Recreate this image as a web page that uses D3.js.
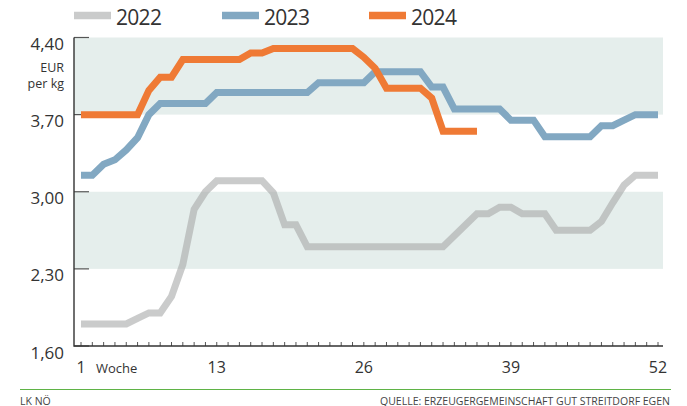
<!DOCTYPE html>
<html>
<head>
<meta charset="utf-8">
<script src="https://cdn.jsdelivr.net/npm/d3@7"></script>
<style>
  body { margin: 0; background: #fff; }
  svg { display: block; font-family: "Open Sans", sans-serif; }
</style>
</head>
<body>
<svg id="chart" width="687" height="406"></svg>
<script>

// weeks 1..52
const weeks = d3.range(1, 53);

const prices2022 = [1.80, 1.80, 1.80, 1.80, 1.80, 1.85, 1.90, 1.90, 2.05, 2.34,
  2.84, 3.00, 3.10, 3.10, 3.10, 3.10, 3.10, 2.99, 2.70, 2.70,
  2.50, 2.50, 2.50, 2.50, 2.50, 2.50, 2.50, 2.50, 2.50, 2.50,
  2.50, 2.50, 2.50, 2.60, 2.70, 2.80, 2.80, 2.86, 2.86, 2.80,
  2.80, 2.80, 2.65, 2.65, 2.65, 2.65, 2.73, 2.90, 3.06, 3.15,
  3.15, 3.15];

const prices2023 = [3.15, 3.15, 3.25, 3.29, 3.38, 3.49, 3.70, 3.80, 3.80, 3.80,
  3.80, 3.80, 3.90, 3.90, 3.90, 3.90, 3.90, 3.90, 3.90, 3.90,
  3.90, 3.99, 3.99, 3.99, 3.99, 3.99, 4.09, 4.09, 4.09, 4.09,
  4.09, 3.95, 3.95, 3.75, 3.75, 3.75, 3.75, 3.75, 3.65, 3.65,
  3.65, 3.50, 3.50, 3.50, 3.50, 3.50, 3.60, 3.60, 3.65, 3.70,
  3.70, 3.70];

// 2024 only up to week 36
const prices2024 = [3.70, 3.70, 3.70, 3.70, 3.70, 3.70, 3.92, 4.04, 4.04, 4.20,
  4.20, 4.20, 4.20, 4.20, 4.20, 4.26, 4.26, 4.30, 4.30, 4.30,
  4.30, 4.30, 4.30, 4.30, 4.30, 4.22, 4.12, 3.94, 3.94, 3.94,
  3.94, 3.85, 3.55, 3.55, 3.55, 3.55];

const seriesNames = ["2022", "2023", "2024"];
const seriesColors = ["#a6a9a9", "#82a8c2", "#ef7a35"];
const seriesOpacity = [0.6, 1, 1];
const seriesValues = [prices2022, prices2023, prices2024];

const yTicks = [1.60, 2.30, 3.00, 3.70, 4.40];
const xLabels = [1, 13, 26, 39, 52];
// shaded bands (from, to)
const bands = [[3.70, 4.40], [2.30, 3.00]];

let svg = d3.select("#chart");

let x = d3.scaleLinear().domain([1, 52]).range([81, 658]);
let y = d3.scaleLinear().domain([1.60, 4.40]).range([346, 37.5]);

let fmt = function(v){ return d3.format(".2f")(v).replace(".", ","); };

// _______________________________BANDS_____________________

svg.append("g")
  .selectAll("rect")
  .data(bands)
  .enter()
  .append("rect")
  .attr("x", 74)
  .attr("width", 663 - 74)
  .attr("y", function(d){ return y(d[1]); })
  .attr("height", function(d){ return y(d[0]) - y(d[1]); })
  .style("fill", "#e5eeec");

// _______________________________AXES_____________________

// y ticks (short lines inside the plot)
svg.append("g")
  .selectAll("line")
  .data(yTicks)
  .enter()
  .append("line")
  .attr("x1", 74)
  .attr("x2", 89)
  .attr("y1", function(d){ return y(d); })
  .attr("y2", function(d){ return y(d); })
  .style("stroke", "#555")
  .style("stroke-width", 1.2);

svg.append("g")
  .selectAll("text")
  .data(yTicks)
  .enter()
  .append("text")
  .attr("x", 64)
  .attr("y", function(d){ return y(d) + 12.5; })
  .attr("text-anchor", "end")
  .style("font-size", "17px")
  .style("fill", "#333")
  .text(fmt);

svg.append("text")
  .attr("x", 64)
  .attr("y", 72)
  .attr("text-anchor", "end")
  .style("font-size", "12.5px")
  .style("fill", "#333")
  .text("EUR");

svg.append("text")
  .attr("x", 64)
  .attr("y", 88)
  .attr("text-anchor", "end")
  .style("font-size", "12.5px")
  .style("fill", "#333")
  .text("per kg");

// x ticks, one per week
svg.append("g")
  .selectAll("line")
  .data(weeks)
  .enter()
  .append("line")
  .attr("x1", function(d){ return x(d); })
  .attr("x2", function(d){ return x(d); })
  .attr("y1", y(1.60) - 4)
  .attr("y2", y(1.60))
  .style("stroke", "#555")
  .style("stroke-width", 1);

svg.append("g")
  .selectAll("text")
  .data(xLabels)
  .enter()
  .append("text")
  .attr("x", function(d){ return x(d); })
  .attr("y", 373)
  .attr("text-anchor", "middle")
  .style("font-size", "16px")
  .style("fill", "#333")
  .text(function(d){ return d; });

svg.append("text")
  .attr("x", 96)
  .attr("y", 373)
  .style("font-size", "13px")
  .style("fill", "#333")
  .text("Woche");

// axis lines
svg.append("path")
  .attr("d", "M74," + y(4.40) + "V" + y(1.60) + "H663")
  .style("fill", "none")
  .style("stroke", "#333")
  .style("stroke-width", 1.4);

// _______________________________LINES_____________________

let line = d3.line()
  .x(function(d, i){ return x(weeks[i]); })
  .y(function(d){ return y(d); });

svg.append("g")
  .selectAll("path")
  .data(seriesValues)
  .enter()
  .append("path")
  .attr("d", line)
  .style("fill", "none")
  .style("stroke", function(d, i){ return seriesColors[i]; })
  .style("stroke-opacity", function(d, i){ return seriesOpacity[i]; })
  .style("stroke-width", 7)
  .style("stroke-linejoin", "miter")
  .style("stroke-linecap", "butt");

// _______________________________LEGEND_____________________

const legendX = [74, 222, 369];

let legend = svg.append("g")
  .selectAll("g")
  .data(seriesNames)
  .enter()
  .append("g")
  .attr("transform", function(d, i){ return "translate(" + legendX[i] + ",0)"; });

legend.append("line")
  .attr("x1", 0)
  .attr("x2", 37)
  .attr("y1", 15.5)
  .attr("y2", 15.5)
  .style("stroke", function(d, i){ return seriesColors[i]; })
  .style("stroke-opacity", function(d, i){ return seriesOpacity[i]; })
  .style("stroke-width", 7.5);

legend.append("text")
  .attr("x", 42)
  .attr("y", 25)
  .style("font-size", "21px")
  .style("letter-spacing", "-0.7px")
  .style("fill", "#333")
  .text(function(d){ return d; });

// _______________________________FOOTER_____________________

svg.append("line")
  .attr("x1", 20)
  .attr("x2", 671)
  .attr("y1", 389.5)
  .attr("y2", 389.5)
  .style("stroke", "#5fb346")
  .style("stroke-width", 1.2);

svg.append("text")
  .attr("x", 20)
  .attr("y", 404.5)
  .style("font-size", "10.5px")
  .style("fill", "#444")
  .text("LK NÖ");

svg.append("text")
  .attr("x", 670)
  .attr("y", 404.5)
  .attr("text-anchor", "end")
  .style("font-size", "10.5px")
  .style("fill", "#444")
  .text("QUELLE: ERZEUGERGEMEINSCHAFT GUT STREITDORF EGEN");

</script>
</body>
</html>
